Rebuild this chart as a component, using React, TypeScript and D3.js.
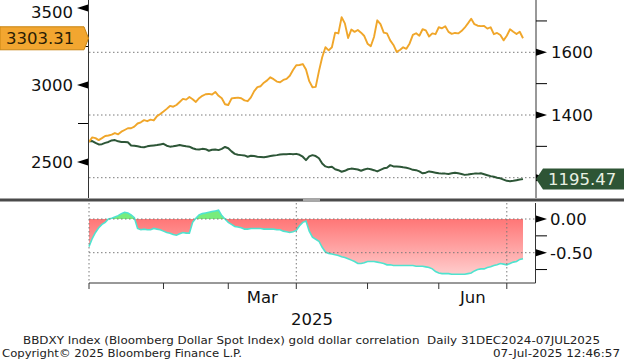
import React from 'react';
import * as d3 from 'd3';

// Gold spot (left axis) and BBDXY (right axis), daily 31DEC2024 - 07JUL2025
const goldValues = [
  2630, 2660, 2655, 2642, 2655, 2669, 2672, 2678, 2688, 2680,
  2697, 2708, 2719, 2719, 2730, 2750, 2758, 2772, 2765, 2775,
  2770, 2798, 2812, 2828, 2845, 2864, 2859, 2870, 2890, 2910,
  2905, 2922, 2908, 2890, 2914, 2930, 2940, 2942, 2938, 2955,
  2930, 2914, 2875, 2870, 2912, 2916, 2918, 2914, 2900, 2895,
  2920, 2960, 2986, 2992, 3015, 3030, 3050, 3038, 3022, 3018,
  3033, 3040, 3060, 3097, 3128, 3130, 3136, 3100, 3025, 2985,
  2988, 3090, 3180, 3245, 3225, 3245, 3340, 3335, 3440, 3400,
  3305, 3360, 3345, 3357, 3340, 3318, 3268, 3252, 3312, 3420,
  3395, 3340, 3335, 3290, 3260, 3215, 3227, 3245, 3235, 3270,
  3325, 3336, 3320, 3362, 3355, 3315, 3335, 3330, 3375, 3368,
  3382, 3345, 3332, 3338, 3335, 3350, 3372, 3400, 3430, 3395,
  3385, 3382, 3383, 3366, 3375, 3330, 3338, 3325, 3290, 3320,
  3362, 3346, 3331, 3346, 3303.31,
];

const dxyValues = [
  1316, 1317, 1311, 1306, 1307, 1311, 1314, 1319, 1320, 1316,
  1314, 1314, 1313, 1303, 1302, 1300, 1298, 1297, 1300, 1302,
  1303, 1304, 1306, 1308, 1302, 1299, 1300, 1302, 1304, 1302,
  1300, 1299, 1294, 1291, 1290, 1292, 1291, 1286, 1289, 1290,
  1288, 1292, 1298, 1294, 1284, 1276, 1273, 1272, 1271, 1267,
  1270, 1269, 1267, 1266, 1265, 1267, 1269, 1271, 1272, 1274,
  1275, 1275, 1276, 1275, 1276, 1273, 1267, 1256, 1268, 1272,
  1269, 1262, 1245, 1236, 1233, 1235, 1227, 1224, 1219, 1222,
  1227, 1229, 1228, 1226, 1222, 1226, 1229, 1227, 1224, 1220,
  1225, 1230, 1232, 1240, 1236, 1236, 1235, 1233, 1232, 1229,
  1225, 1224, 1220, 1214, 1216, 1220, 1218, 1216, 1214, 1213,
  1213, 1212, 1214, 1216, 1214, 1212, 1209, 1210, 1212, 1213,
  1213, 1214, 1211, 1208, 1205, 1203, 1200, 1198, 1194, 1190,
  1189, 1190, 1192, 1194, 1195.47,
];

// rolling gold / dollar correlation (bottom panel)
const corrValues = [
  -0.41, -0.29, -0.20, -0.13, -0.08, -0.05, 0.00, 0.01, 0.03, 0.05,
  0.08, 0.10, 0.09, 0.06, 0.02, -0.14, -0.16, -0.15, -0.16, -0.16,
  -0.14, -0.15, -0.16, -0.18, -0.20, -0.21, -0.23, -0.24, -0.22, -0.20,
  -0.21, -0.21, -0.05, 0.01, 0.06, 0.08, 0.09, 0.10, 0.11, 0.12,
  0.13, 0.05, 0.00, -0.05, -0.08, -0.11, -0.12, -0.13, -0.15, -0.15,
  -0.14, -0.14, -0.14, -0.14, -0.15, -0.15, -0.15, -0.15, -0.16, -0.16,
  -0.18, -0.19, -0.20, -0.19, -0.17, -0.10, -0.05, -0.03, -0.18, -0.27,
  -0.30, -0.33, -0.42, -0.49, -0.51, -0.52, -0.53, -0.54, -0.56, -0.57,
  -0.59, -0.61, -0.63, -0.66, -0.66, -0.65, -0.63, -0.63, -0.63, -0.64,
  -0.65, -0.66, -0.68, -0.68, -0.69, -0.69, -0.69, -0.69, -0.69, -0.69,
  -0.69, -0.70, -0.70, -0.70, -0.71, -0.72, -0.74, -0.78, -0.80, -0.81,
  -0.81, -0.81, -0.82, -0.82, -0.82, -0.82, -0.82, -0.81, -0.80, -0.77,
  -0.75, -0.74, -0.74, -0.72, -0.71, -0.69, -0.68, -0.66, -0.67, -0.68,
  -0.66, -0.64, -0.63, -0.60, -0.59,
];

const goldTicks = [2500, 3000, 3500];
const goldMinorTicks = [2750, 3250];
const dxyTicks = [1400, 1600];
const dxyMinorTicks = [1300, 1500, 1700];
const dxyGrid = [1200, 1400, 1600];
const corrTicks = [0, -0.5];
const corrMinorTicks = [-0.25, -0.75];

const footerTitle = 'BBDXY Index (Bloomberg Dollar Spot Index) gold dollar correlation  Daily 31DEC2024-07JUL2025';
const footerCopyright = 'Copyright\u00A9 2025 Bloomberg Finance L.P.';
const footerStamp = '07-Jul-2025 12:46:57';

const FONT = 'DejaVu Sans';
const GOLD = '#f0a62a';
const GREEN = '#2d5637';

// weekday calendar used as the x categories
const dates = d3.timeDay
  .range(new Date(2024, 11, 31), new Date(2025, 6, 8))
  .filter(d => d.getDay() !== 0 && d.getDay() !== 6);

const x = d3.scaleLinear().domain([0, dates.length - 1]).range([89, 523]);
const yGold = d3.scaleLinear().domain([2500, 3000]).range([162, 85]);
const yDxy = d3.scaleLinear().domain([1200, 1600]).range([177.7, 52.3]);
const yCorr = d3.scaleLinear().domain([0, -0.5]).range([219, 252.7]);

const months = d3.timeMonth.range(new Date(2025, 0, 1), new Date(2025, 7, 1)).map(m => ({
  m,
  idx: dates.findIndex(d => d >= m) - 1,
}));

const goldLine = d3.line<number>().x((_, i) => x(i)).y(v => yGold(v));
const dxyLine = d3.line<number>().x((_, i) => x(i)).y(v => yDxy(v));
const corrLine = d3.line<number>().x((_, i) => x(i)).y(v => yCorr(v));
const corrArea = d3.area<number>().x((_, i) => x(i)).y0(yCorr(0)).y1(v => yCorr(v));

const dotted = { stroke: '#7a7a7a', strokeWidth: 1, strokeDasharray: '1.5,2.5' };

export default function App() {
  const lastGold = goldValues[goldValues.length - 1];
  const lastDxy = dxyValues[dxyValues.length - 1];
  const gy = yGold(lastGold);
  const dy = yDxy(lastDxy);
  const z = yCorr(0);

  return (
    <svg width={624} height={360} style={{ position: 'absolute', left: 0, top: 0, background: '#fff' }}
      fontFamily={FONT}>
      <defs>
        <clipPath id="top"><rect x={89} y={0} width={447} height={197} /></clipPath>
        <clipPath id="neg"><rect x={89} y={z} width={447} height={283 - z} /></clipPath>
        <clipPath id="pos"><rect x={89} y={203} width={447} height={z - 203} /></clipPath>
        <linearGradient id="redfade" gradientUnits="userSpaceOnUse" x1={0} y1={z} x2={0} y2={276}>
          <stop offset="0" stopColor="#ff7676" />
          <stop offset="1" stopColor="#ffcfcf" />
        </linearGradient>
      </defs>

      {/* top panel grid */}
      {dxyGrid.map(v => (
        <line key={v} x1={89} x2={536} y1={yDxy(v)} y2={yDxy(v)} {...dotted} />
      ))}

      <g clipPath="url(#top)" fill="none" strokeLinejoin="round">
        <path d={dxyLine(dxyValues) ?? ''} stroke={GREEN} strokeWidth={2} />
        <path d={goldLine(goldValues) ?? ''} stroke={GOLD} strokeWidth={1.9} />
      </g>

      {/* top panel axes */}
      <line x1={88.5} x2={88.5} y1={0} y2={198} stroke="#333" />
      <line x1={536} x2={536} y1={0} y2={198} stroke="#333" />

      {goldTicks.map(v => (
        <g key={v}>
          <path d={`M77,${yGold(v)}L88,${yGold(v) - 3.5}L88,${yGold(v) + 3.5}Z`} fill="#000" />
          <text x={73} y={Math.max(yGold(v), 12.5)} dy="0.36em" textAnchor="end" fontSize={16.5} fill="#111">{v}</text>
        </g>
      ))}
      {goldMinorTicks.map(v => (
        <line key={v} x1={78} x2={88} y1={yGold(v)} y2={yGold(v)} stroke="#000" />
      ))}

      {dxyGrid.map(v => (
        <path key={v} d={`M536,${yDxy(v) - 3.5}L547,${yDxy(v)}L536,${yDxy(v) + 3.5}Z`} fill="#000" />
      ))}
      {dxyTicks.map(v => (
        <text key={v} x={551} y={yDxy(v)} dy="0.36em" fontSize={16.5} fill="#111">{v}</text>
      ))}
      {dxyMinorTicks.map(v => (
        <line key={v} x1={536} x2={547} y1={yDxy(v)} y2={yDxy(v)} stroke="#000" />
      ))}

      {/* last value tags */}
      <path d={`M0,${gy - 11.5}L84,${gy - 11.5}L88.5,${gy}L84,${gy + 11.5}L0,${gy + 11.5}Z`}
        fill="#f2a630" stroke="#c98512" />
      <text x={6} y={gy} dy="0.36em" fontSize={16.5} fill="#2a1d05">{lastGold.toFixed(2)}</text>

      <path d={`M536,${dy}L543,${dy - 10.5}L624,${dy - 10.5}L624,${dy + 10.5}L543,${dy + 10.5}Z`}
        fill="#2e5535" />
      <text x={548} y={dy} dy="0.36em" fontSize={16.5} fill="#e8f0e2">{lastDxy.toFixed(2)}</text>

      {/* panel separator */}
      <rect x={0} y={198.5} width={624} height={3} fill="#4a4a4a" />
      <rect x={303} y={198.5} width={17} height={3} fill="#a8a8a8" />

      {/* bottom panel */}
      <path d={corrArea(corrValues) ?? ''} fill="url(#redfade)" clipPath="url(#neg)" />
      <path d={corrArea(corrValues) ?? ''} fill="#78ec7c" clipPath="url(#pos)" />
      <path d={corrLine(corrValues) ?? ''} fill="none" stroke="#4fe3cf" strokeWidth={1.6} />

      {corrTicks.map(v => (
        <line key={v} x1={89} x2={535.5} y1={yCorr(v)} y2={yCorr(v)} {...dotted} />
      ))}
      {months.filter(d => d.m.getMonth() % 3 === 0).map(d => (
        <line key={+d.m} x1={x(d.idx)} x2={x(d.idx)} y1={203} y2={283} {...dotted} />
      ))}

      <line x1={89} x2={535.5} y1={283} y2={283} stroke="#333" />
      <line x1={535.5} x2={535.5} y1={203} y2={283} stroke="#333" />

      {corrTicks.map(v => (
        <g key={v}>
          <path d={`M536,${yCorr(v) - 3.5}L547,${yCorr(v)}L536,${yCorr(v) + 3.5}Z`} fill="#000" />
          <text x={550} y={yCorr(v)} dy="0.36em" fontSize={16.5} fill="#111">
            {v === 0 ? '0.00' : '-' + Math.abs(v).toFixed(2)}
          </text>
        </g>
      ))}
      {corrMinorTicks.map(v => (
        <line key={v} x1={536} x2={547} y1={yCorr(v)} y2={yCorr(v)} stroke="#000" />
      ))}

      {/* x axis */}
      {months.map(d => (
        <line key={+d.m} x1={x(d.idx)} x2={x(d.idx)} y1={283} y2={289} stroke="#333" />
      ))}
      {months.filter(d => d.m.getMonth() % 3 === 2).map((d, i) => {
        const next = months[months.indexOf(d) + 1];
        return (
          <text key={i} x={(x(d.idx) + x(next.idx)) / 2} y={303} textAnchor="middle" fontSize={16.5} fill="#111">
            {d3.timeFormat('%b')(d.m)}
          </text>
        );
      })}
      <text x={312} y={325} textAnchor="middle" fontSize={16.5} fill="#111">2025</text>

      {/* footer */}
      <text x={23} y={343.5} fontSize={11} fill="#222" textLength={577} lengthAdjust="spacingAndGlyphs"
        style={{ whiteSpace: 'pre' }}>{footerTitle}</text>
      <text x={2} y={357} fontSize={11} fill="#222" textLength={240} lengthAdjust="spacingAndGlyphs">{footerCopyright}</text>
      <text x={493} y={357} fontSize={11} fill="#222" textLength={127} lengthAdjust="spacingAndGlyphs">{footerStamp}</text>
    </svg>
  );
}
